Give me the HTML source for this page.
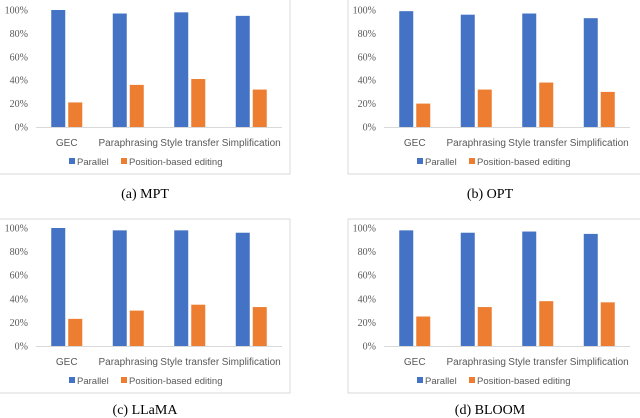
<!DOCTYPE html>
<html><head><meta charset="utf-8"><style>
body{margin:0;background:#fff}
svg{display:block}
.tick{font-family:"Liberation Serif",serif;font-size:10px;fill:#595959}
.cat{font-family:"Liberation Sans",sans-serif;font-size:10px;fill:#595959}
.leg{font-family:"Liberation Sans",sans-serif;font-size:9.5px;fill:#595959}
.cap{font-family:"Liberation Serif",serif;font-size:14px;fill:#000}
</style></head><body>
<svg id="c" width="640" height="418"></svg>
<script>
const categories=["GEC","Paraphrasing","Style transfer","Simplification"];
const ticks=[0,20,40,60,80,100];
const models=["MPT","OPT","LLaMA","BLOOM"];
const captions=["(a) MPT","(b) OPT","(c) LLaMA","(d) BLOOM"];
const parallelMPT=[100,97,98,95];
const editingMPT=[21,36,41,32];
const parallelOPT=[99,96,97,93];
const editingOPT=[20,32,38,30];
const parallelLLaMA=[100,98,98,96];
const editingLLaMA=[23,30,35,33];
const parallelBLOOM=[98,96,97,95];
const editingBLOOM=[25,33,38,37];
const seriesP=[parallelMPT,parallelOPT,parallelLLaMA,parallelBLOOM];
const seriesE=[editingMPT,editingOPT,editingLLaMA,editingBLOOM];
const layout=[
 {l:36,r:282,y0:127,y1:10,bx:-1,by:-1,bw:291,bh:175,cx:145,cy:198},
 {l:384,r:630,y0:127,y1:10,bx:348,by:-1,bw:300,bh:175,cx:490,cy:198},
 {l:36,r:282,y0:346,y1:228,bx:-1,by:219,bw:291,bh:174,cx:145,cy:414},
 {l:384,r:630,y0:346,y1:228,bx:348,by:219,bw:300,bh:174,cx:490,cy:414}];
const svg=document.getElementById('c');
const NS="http://www.w3.org/2000/svg";
function mk(t,a,p){const e=document.createElementNS(NS,t);for(const k in a)e.setAttribute(k,a[k]);(p||svg).appendChild(e);return e;}
layout.forEach((L,i)=>{
 const g=mk('g',{});
 
 
 const y=v=>L.y0-(L.y0-L.y1)*v/100;
 const band=(L.r-L.l)/categories.length;
 const xc=j=>L.l+band*(j+0.5);
 const fr=mk('rect',{x:L.bx,y:L.by,width:L.bw,height:L.bh,fill:'none',stroke:'#d9d9d9','stroke-width':1},g);
 
 
 ticks.forEach(t=>{
  const tx=mk('text',{x:L.l-8,y:y(t)+3.5,'text-anchor':'end',class:'tick'},g);
  tx.textContent=t+'%';
  
  
 });
 categories.forEach((c,j)=>{
  const bp=mk('rect',{x:xc(j)-15.5,y:y(seriesP[i][j]),width:14,height:y(0)-y(seriesP[i][j]),fill:'#4472c4'},g);
  
  
  const be=mk('rect',{x:xc(j)+1.5,y:y(seriesE[i][j]),width:14,height:y(0)-y(seriesE[i][j]),fill:'#ed7d31'},g);
  
  
  const lt=mk('text',{x:xc(j),y:L.y0+19,'text-anchor':'middle',class:'cat'},g);
  lt.textContent=c;
  
  
 });
 const ax=mk('line',{x1:L.l,x2:L.r,y1:L.y0+0.5,y2:L.y0+0.5,stroke:'#d9d9d9'},g);
 
 
 const ly=L.y0+35, lx=L.l+33;
 const s1=mk('rect',{x:lx,y:ly-4,width:6,height:6,fill:'#4472c4'},g);
 
 
 const t1=mk('text',{x:lx+8,y:ly+3,class:'leg'},g);t1.textContent='Parallel';
 
 
 const s2=mk('rect',{x:lx+52,y:ly-4,width:6,height:6,fill:'#ed7d31'},g);
 
 
 const t2=mk('text',{x:lx+60,y:ly+3,class:'leg'},g);t2.textContent='Position-based editing';
 
 
 const cp=mk('text',{x:L.cx,y:L.cy,'text-anchor':'middle',class:'cap'},g);cp.textContent=captions[i];
 
 
});
</script>
</body></html>
